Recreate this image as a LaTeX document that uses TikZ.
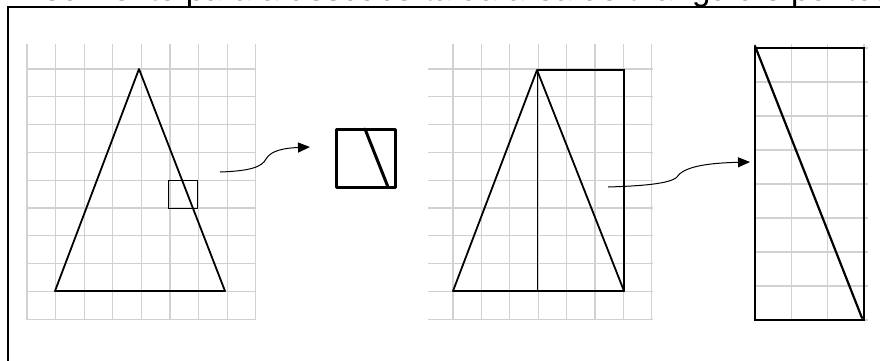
\documentclass[tikz,border=0pt]{standalone}
\usepackage{fontspec}
\setmainfont{Liberation Sans}
\usetikzlibrary{arrows.meta}
\tikzset{
  malha/.style={line width=1.3pt, black!18},
  contorno/.style={line width=1.8pt, line join=round},
  seta/.style={line width=1pt, -{Triangle[length=12pt,width=10pt]}}
}
\begin{document}
\begin{tikzpicture}[x=1pt, y=-1pt]
                    \useasboundingbox (0,0) rectangle (880,361);
                    \begin{scope}
                    \clip (0,0) rectangle (880,7);
                    \node[anchor=base west, inner sep=0pt, font=\fontsize{33}{38}\selectfont] (cabecalho) at (-29,0.5) {conhecimento para a descoberta da área do triângulo e pontos};
                    \end{scope}
                    \draw[line width=2pt] (7.5,361) |- (880,7.5);

                    \foreach \i in {0,...,8} \draw[malha] ({27+28.6*\i},44) -- ({27+28.6*\i},320);
                    \foreach \j in {0,...,9} \draw[malha] (27,{69+27.8*\j}) -- (256,{69+27.8*\j});
                    \foreach \i in {0,...,7} \draw[malha] ({453+28.4*\i},44) -- ({453+28.4*\i},320);
                    \foreach \j in {0,...,9} \draw[malha] (428,{69+27.8*\j}) -- (653,{69+27.8*\j});
                    \foreach \i in {0,...,3} \draw[malha] ({755+36.3*\i},44) -- ({755+36.3*\i},320);
                    \foreach \j in {0,...,8} \draw[malha] (755,{48+34*\j}) -- (868,{48+34*\j});

                    \draw[contorno] (139,69) -- (55,291) -- (225,291) -- cycle;
                    \draw[line width=1pt] (168,180) rectangle (197,208);
                    \coordinate (lupaA) at (220,172);
                    \coordinate (lupaB) at (310,147);
                    \draw[seta] (lupaA) .. controls (250,171) and (262,167) .. (266,159) .. controls (271,150) and (286,148) .. (lupaB);
                    \draw[line width=3pt, line join=round] (336,129) rectangle (395,187);
                    \draw[line width=3pt, line cap=round] (365,129) -- (388,187);

                    \draw[contorno] (537,70) -- (453,291) -- (624,291) -- cycle;
                    \draw[line width=1pt] (537,70) -- (537,291);
                    \draw[line width=1.2pt] (537,70) -| (624,291);
                    \coordinate (metadeA) at (608,187);
                    \coordinate (metadeB) at (750,162);
                    \draw[seta] (metadeA) .. controls (640,186) and (670,184) .. (677,177) .. controls (684,166) and (710,163) .. (metadeB);

                    \draw[line width=2.2pt] (755,48) rectangle (864,320);
                    \draw[line width=2.2pt, line cap=round] (755,46) -- (862,318);
                \end{tikzpicture}
\end{document}
